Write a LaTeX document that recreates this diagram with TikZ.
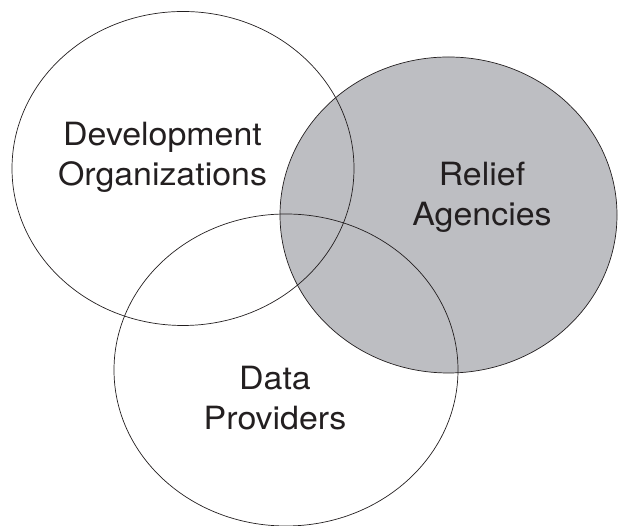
\documentclass[tikz,border=0pt]{standalone}
\usepackage{fontspec}
\setmainfont{TeX Gyre Heros}
\usepackage{xcolor}
\usepackage{tikz}
\definecolor{ink}{HTML}{231F20}
\definecolor{shade}{HTML}{BDBEC2}
\tikzset{
  rim/.style={draw=ink, line width=0.7pt},
  shaded/.style={fill=shade},
  lbl/.style={align=center, inner sep=0pt, text=ink, xscale=1.06,
    font=\fontsize{32}{40}\selectfont}
}

\begin{document}
\begin{tikzpicture}[x=1pt,y=1pt]
  \useasboundingbox (0,0) rectangle (618,526);
  % centres of the three sets
  \coordinate (devc) at (183,357.5);
  \coordinate (reliefc) at (448.5,311);
  \coordinate (datac) at (286,156);
  % relief set is shaded, outlines go on top
  \fill[shaded] (reliefc) ellipse [x radius=168.5, y radius=158];
  \draw[rim] (devc) ellipse [x radius=171, y radius=157];
  \draw[rim] (reliefc) ellipse [x radius=168.5, y radius=158];
  \draw[rim] (datac) ellipse [x radius=172, y radius=156];
  \node[lbl] (dev) at (162.5,368.2) {Development\\Organizations};
  \node[lbl] (relief) at (482,328.8) {Relief\\Agencies};
  \node[lbl] (data) at (275,128) {Data\\Providers};
\end{tikzpicture}
\end{document}
